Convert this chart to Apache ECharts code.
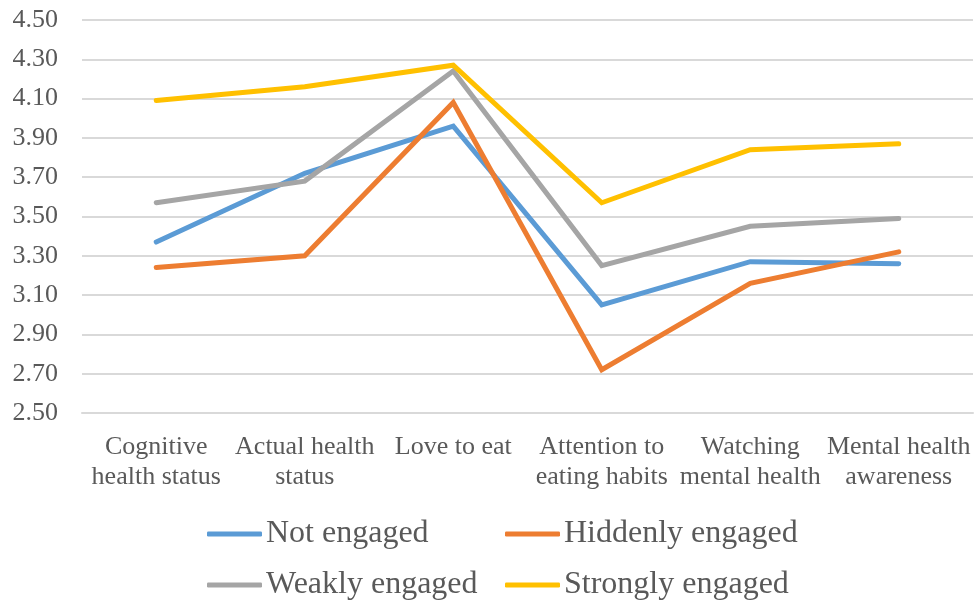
<!DOCTYPE html>
<html>
<head>
<meta charset="utf-8">
<script src="https://cdn.jsdelivr.net/npm/echarts@6/dist/echarts.min.js"></script>
<style>html,body{margin:0;padding:0;background:#fff;}#c{width:975px;height:603px;}</style>
</head>
<body>
<div id="c"></div>
<script>
var categories = ['Cognitive\nhealth status', 'Actual health\nstatus', 'Love to eat', 'Attention to\neating habits', 'Watching\nmental health', 'Mental health\nawareness'];
var seriesNames = ['Not engaged', 'Hiddenly engaged', 'Weakly engaged', 'Strongly engaged'];
var notEngaged = [3.37, 3.72, 3.96, 3.05, 3.27, 3.26];
var hiddenlyEngaged = [3.24, 3.30, 4.08, 2.72, 3.16, 3.32];
var weaklyEngaged = [3.57, 3.68, 4.24, 3.25, 3.45, 3.49];
var stronglyEngaged = [4.09, 4.16, 4.27, 3.57, 3.84, 3.87];
var yMin = 2.5, yMax = 4.5, yStep = 0.2;

var colors = ['#5B9BD5', '#ED7D31', '#A5A5A5', '#FFC000'];
var allData = [notEngaged, hiddenlyEngaged, weaklyEngaged, stronglyEngaged];
var font = 'Liberation Serif, Times New Roman, serif';
var chart = echarts.init(document.getElementById('c'), null, {renderer: 'canvas'});
var legendCommon = {
  orient: 'vertical', top: 518, height: 150, itemGap: 19, itemWidth: 55, itemHeight: 5,
  icon: 'roundRect', padding: 0,
  textStyle: {fontFamily: font, fontSize: 32, color: '#595959', padding: [0, 0, 0, -1]}
};
chart.setOption({
  animation: false,
  color: colors,
  grid: {left: 82, right: 2, top: 20, bottom: 190, containLabel: false},
  legend: [
    Object.assign({left: 207, data: [seriesNames[0], seriesNames[2]]}, legendCommon),
    Object.assign({left: 505, data: [seriesNames[1], seriesNames[3]]}, legendCommon)
  ],
  xAxis: {
    type: 'category', data: categories, boundaryGap: true,
    axisLine: {show: true, lineStyle: {color: '#D9D9D9', width: 2}},
    axisTick: {show: false},
    axisLabel: {interval: 0, fontFamily: font, fontSize: 26, color: '#595959', lineHeight: 30, margin: 19}
  },
  yAxis: {
    type: 'value', min: yMin, max: yMax, interval: yStep, startValue: yMin,
    axisLine: {show: false}, axisTick: {show: false},
    splitLine: {lineStyle: {color: '#D9D9D9', width: 2}},
    axisLabel: {fontFamily: font, fontSize: 26, color: '#595959', margin: 24,
      formatter: function (v) { return v.toFixed(2); }}
  },
  series: allData.map(function (d, i) {
    return {
      name: seriesNames[i], type: 'line', data: d, symbol: 'none',
      lineStyle: {width: 5, color: colors[i], cap: 'round', join: 'miter'},
      itemStyle: {color: colors[i]}
    };
  })
});
</script>
</body>
</html>
